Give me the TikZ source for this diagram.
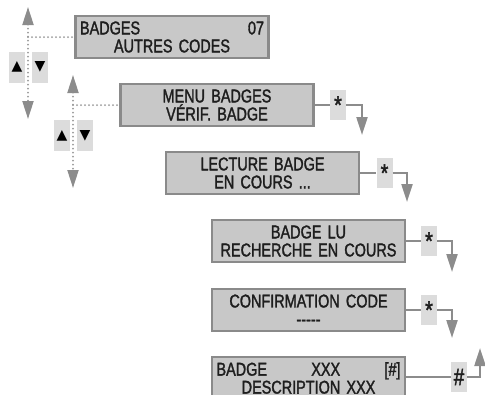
\documentclass[tikz,border=0pt]{standalone}
\usepackage{fontspec}
\setmainfont{Liberation Sans}[FakeStretch=0.78,FakeBold=1.6]
\newfontfamily\keyfont{Liberation Sans}[FakeStretch=0.79,FakeBold=1.6]
\newfontfamily\symfont{DejaVu Sans}
\usetikzlibrary{arrows.meta}
\definecolor{boxfill}{HTML}{C8C8C8}
\definecolor{boxedge}{HTML}{8A8A8A}
\definecolor{keyfill}{HTML}{DCDCDC}
\definecolor{arrowgray}{HTML}{8C8C8C}
\definecolor{dotgray}{HTML}{999999}
\definecolor{ink}{HTML}{1E1E1E}
\begin{document}
\begin{tikzpicture}[x=1pt,y=-1pt,
  screen/.style={draw=boxedge, line width=2.4pt, fill=boxfill,
    minimum width=193pt, minimum height=42pt, inner sep=0pt,
    text width=184pt, align=center, text=ink,
    font=\fontsize{18.5}{18}\selectfont},
  keybox/.style={fill=keyfill, minimum width=16pt, minimum height=30pt,
    inner sep=0pt, text=ink},
  starkey/.style={keybox, font=\keyfont\fontsize{25}{25}\selectfont},
  hashkey/.style={keybox, font=\keyfont\fontsize{24}{24}\selectfont},
  btn/.style={fill=keyfill, minimum width=16pt, minimum height=31pt,
    inner sep=0pt, text=black, font=\symfont\fontsize{14}{14}\selectfont},
  tip/.style={-{Triangle[length=18pt,width=11pt]}},
  flow/.style={draw=arrowgray, line width=2.2pt, tip},
  link/.style={draw=arrowgray, line width=2.2pt},
  nav/.style={draw=dotgray, line width=2pt, line cap=round,
    dash pattern=on 0pt off 4pt},
  navarrow/.style={nav, {Triangle[length=18pt,width=11pt,fill=arrowgray,color=arrowgray]}-{Triangle[length=18pt,width=11pt,fill=arrowgray,color=arrowgray]}}
]
\useasboundingbox (0,0) rectangle (485,394);
\clip (0,0) rectangle (485,394);

% screens
\node[screen] (b1) at (172,37) {\makebox[\linewidth]{BADGES\hfill 07}\\AUTRES CODES};
\node[screen] (b2) at (217,105) {MENU BADGES\\VÉRIF. BADGE};
\node[screen] (b3) at (262.5,173) {LECTURE BADGE\\EN COURS ...};
\node[screen] (b4) at (308.5,241) {BADGE LU\\\mbox{RECHERCHE EN COURS}};
\node[screen] (b5) at (308.5,310) {CONFIRMATION CODE\\-{}-{}-{}-{}-};
\node[screen] (b6) at (308.5,378) {\makebox[\linewidth]{BADGE\hfill XXX\hfill [\#]}\\DESCRIPTION XXX};

% keys
\node[starkey] (s2) at (338,105) {*};
\node[starkey] (s3) at (384.5,173) {*};
\node[starkey] (s4) at (429,241) {*};
\node[starkey] (s5) at (429,310) {*};
\node[hashkey] (h6) at (459,377) {\#};

% arrow ends
\coordinate (c2) at (362,135);
\coordinate (c3) at (407,202);
\coordinate (c4) at (452,272);
\coordinate (c5) at (452,338);
\coordinate (c6) at (480,348);

\draw[link] (b2.east) -- (s2.west);
\draw[flow] (s2.east) -| (c2);
\draw[link] (b3.east) -- (s3.west);
\draw[flow] (s3.east) -| (c3);
\draw[link] (b4.east) -- (s4.west);
\draw[flow] (s4.east) -| (c4);
\draw[link] (b5.east) -- (s5.west);
\draw[flow] (s5.east) -| (c5);
\draw[link] (b6.east |- h6.west) -- (h6.west);
\draw[flow] (h6.east) -| (c6);

% navigation 1
\node[btn] (up1) at (17,67) {▲};
\node[btn] (dn1) at (40,67) {▼};
\coordinate (t1) at (28,7);
\coordinate (e1) at (28,119);
\coordinate (j1) at (28,37);
\draw[navarrow] (t1) -- (e1);
\draw[nav] (j1) -- (b1.west);

% navigation 2
\node[btn] (up2) at (62,135.5) {▲};
\node[btn] (dn2) at (85,135.5) {▼};
\coordinate (t2) at (73,75);
\coordinate (e2) at (73,188);
\coordinate (j2) at (73,105);
\draw[navarrow] (t2) -- (e2);
\draw[nav] (j2) -- (b2.west);
\end{tikzpicture}
\end{document}
